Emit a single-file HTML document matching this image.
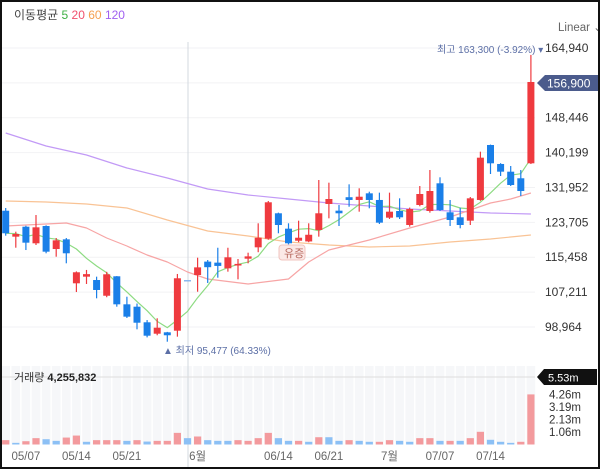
<!DOCTYPE html>
<html><head><meta charset="utf-8">
<style>
html,body{margin:0;padding:0;background:#fff;}
#wrap{position:relative;width:600px;height:469px;overflow:hidden;font-family:"Liberation Sans","Noto Sans CJK KR",sans-serif;}
svg text{font-family:"Liberation Sans","Noto Sans CJK KR",sans-serif;}
</style></head>
<body>
<div id="wrap">
<svg id="chart" width="600" height="469" viewBox="0 0 600 469" xmlns="http://www.w3.org/2000/svg">
  <rect x="0" y="0" width="600" height="469" fill="#fff"/>
  <g id="grid"></g>
  <g id="volbg"></g>
  <line x1="188" y1="42" x2="188" y2="469" stroke="#d3d8df" stroke-width="1"/>
  <g id="ma"></g>
  <g id="candles"></g>
  <g id="vols"></g>
  <g id="axis"></g>
  <g id="xaxis"></g>

  <text x="14" y="19" font-size="12" fill="#444">이동평균 <tspan fill="#3cb043">5</tspan> <tspan fill="#f0506e">20</tspan> <tspan fill="#f5a050">60</tspan> <tspan fill="#a060f0">120</tspan></text>
  <text x="558" y="31" font-size="11.5" fill="#666">Linear ⌄</text>

  <text x="437" y="53" font-size="10" fill="#5c6fa6">최고 163,300 (-3.92%) ▾</text>
  <text x="163" y="354" font-size="10" fill="#5c6fa6">▲ 최저 95,477 (64.33%)</text>

  <g>
    <rect x="279" y="245" width="26" height="15" rx="3" fill="#fbe9e7" stroke="#f0c4bf"/>
    <text x="284" y="257" font-size="11" fill="#b86a60">유증</text>
  </g>

  <g>
    <polygon points="537,83 545,75 598,75 598,91 545,91" fill="#4b5b8c"/>
    <text x="547" y="87.5" font-size="12" fill="#fff">156,900</text>
  </g>

  <line x1="0" y1="377" x2="535" y2="377" stroke="#ddd"/>
  <text x="14" y="381" font-size="11" fill="#333">거래량 <tspan font-weight="bold" fill="#222">4,255,832</tspan></text>
  <g>
    <polygon points="537,377 544,369 597,369 597,385 544,385" fill="#111"/>
    <text x="548" y="381.5" font-size="11" fill="#fff">5.53m</text>
  </g>

  <rect x="1" y="1" width="598" height="467" fill="none" stroke="#111" stroke-width="2"/>
</svg>
</div>
<script>
// ---- data ----
const opens  = [126460,120320,122680,118750,122840,117400,119690,109290,110860,110070,106350,110950,104320,103760,100070,97370,97700,98080,110070,111250,114420,114180,112840,113500,115110,117800,119840,125850,122210,119360,119190,121900,128050,126470,129650,129000,130570,129000,124810,126390,123080,127810,126390,132940,126080,124900,124100,129000,142000,137510,135690,134130,137670];
const closes = [121120,120950,118900,122530,116770,119450,116390,111900,111460,107710,111420,104320,101400,99970,96900,98790,97000,110480,110070,113060,113100,113400,115440,113880,115660,120070,128450,123080,118750,120070,120770,125850,129230,125850,129000,129770,129000,123630,126230,124900,126860,130410,131120,126630,124260,123080,129390,139000,137670,135690,132540,131120,156900];
const highs  = [127100,121500,122900,125440,123000,120000,120000,112100,112450,110860,112000,111000,106120,104500,100600,101020,97800,111500,110070,115350,114800,117700,117700,115040,116530,123480,128760,126000,123480,124100,123480,133720,133090,127800,132700,131760,130960,130730,130730,129390,127200,132300,136090,134360,128990,127170,129700,140420,142100,137700,137030,136090,163300];
const lows   = [120550,117710,117160,118350,116390,115580,114020,107230,109130,105740,106000,103760,101090,98410,96500,97000,95477,96670,110070,107300,109370,110620,112040,110230,114020,116640,119600,121120,118500,119000,119000,120320,124660,122840,127400,126230,127030,123320,124500,124500,122680,127500,126000,126400,122840,122300,123080,128800,135140,134670,132300,129940,137500];
const volumes = [0.37,0.14,0.28,0.54,0.45,0.31,0.59,0.76,0.23,0.37,0.37,0.37,0.31,0.37,0.25,0.31,0.31,0.99,0.54,0.68,0.37,0.31,0.31,0.37,0.31,0.54,0.99,0.54,0.31,0.31,0.23,0.62,0.62,0.31,0.37,0.31,0.23,0.23,0.37,0.31,0.23,0.54,0.54,0.31,0.31,0.31,0.54,1.08,0.40,0.23,0.14,0.23,4.26];
const volDir = "rbrrbbrrbrrrbrbrrrbrbbbrrrrbbrbrbbrbbrrbbrrbrbrrbbbrr".split("");
const maIdx = [0,4,8,12,16,20,24,28,32,36,40,44,48,52];
const ma120 = [144837,141763,139634,136560,134195,131593,130174,129228,128282,127573,126863,126390,125917,125681];
const ma60  = [128755,128518,128045,127099,124262,121660,120478,119059,118349,117876,118113,119059,119768,120714];
const ma20Idx = [0,4,6,8,10,12,14,16,18,20,24,28,30,32,36,40,44,46,48,50,52];
const ma20  = [122843,123316,123552,122370,120005,118113,115984,114329,111964,110308,109126,110308,114329,117167,119532,122370,124971,126627,128282,129228,130647];
const priceTicks = [164940,156693,148446,140199,131952,123705,115458,107211,98964];
const priceTickLabels = ["164,940","156,693","148,446","140,199","131,952","123,705","115,458","107,211","98,964"];
const volTicks = [4.26,3.19,2.13,1.06];
const volTickLabels = ["4.26m","3.19m","2.13m","1.06m"];
const dateIdx = [2,7,12,19,27,32,38,43,48];
const dateLabels = ["05/07","05/14","05/21","6월","06/14","06/21","7월","07/07","07/14"];

// ---- scales ----
const NS="http://www.w3.org/2000/svg";
const xOf = i => 5.7 + i*10.1;
const yOf = p => 48 + (164940 - p) / 236.5;
const vBase = 444.5;
const vOf = v => vBase - v * 11.76;
function mk(tag, attrs, parent){const e=document.createElementNS(NS,tag);for(const k in attrs)e.setAttribute(k,attrs[k]);parent.appendChild(e);return e;}
const G=id=>document.getElementById(id);
const RED="#ef3a3f", BLUE="#1a7fe8";

priceTicks.forEach((p,k)=>{
  const y=yOf(p);
  const gl=mk('line',{x1:0,y1:y,x2:535,y2:y,stroke:'#f2f2f4'},G('grid'));
  
  
  if(k===1) return;
  const t=mk('text',{x:545,y:y+4,'font-size':12,fill:'#333'},G('axis'));
  t.textContent=priceTickLabels[k];
  
  
});
volTicks.forEach((v,k)=>{
  const t=mk('text',{x:549,y:vOf(v)+4,'font-size':11.5,fill:'#333'},G('axis'));
  t.textContent=volTickLabels[k];
  
  
});
for(let i=0;i<closes.length;i++){
  const r=mk('rect',{x:xOf(i)-4.3,y:366,width:8.6,height:vBase-366,fill:'#f6f7f9'},G('volbg'));
  
  
}
dateIdx.forEach((i,k)=>{
  const t=mk('text',{x:xOf(i),y:460,'font-size':11.5,fill:'#666','text-anchor':'middle'},G('xaxis'));
  t.textContent=dateLabels[k];
  
  
});
function line(idx, vals, color, name, w){
  const pts=idx.map((i,k)=>xOf(i).toFixed(1)+','+yOf(vals[k]).toFixed(1)).join(' ');
  const pl=mk('polyline',{points:pts,fill:'none',stroke:color,'stroke-width':w,'stroke-linejoin':'round'},G('ma'));
  
  
}
line(maIdx, ma120, '#c29af6', 'ma120-line', 1.2);
line(maIdx, ma60, '#f9c395', 'ma60-line', 1.2);
line(ma20Idx, ma20, '#f7a5a5', 'ma20-line', 1.2);
const ma5=[],ma5Idx=[];
closes.forEach((c,i)=>{const s=closes.slice(Math.max(0,i-4),i+1);ma5.push(s.reduce((a,b)=>a+b,0)/s.length);ma5Idx.push(i);});
line(ma5Idx, ma5, '#8ddb82', 'ma5-line', 1.2);
closes.forEach((c,i)=>{
  const o=opens[i], x=xOf(i);
  const col = c>o ? RED : (c<o ? BLUE : '#8ab8ee');
  const w=mk('line',{x1:x,y1:yOf(highs[i]),x2:x,y2:yOf(lows[i]),stroke:col,'stroke-width':1.2},G('candles'));
  
  
  const top=yOf(Math.max(o,c)), h=Math.max(1.5,yOf(Math.min(o,c))-top);
  const b=mk('rect',{x:x-3.5,y:top,width:7,height:h,fill:col},G('candles'));
  
  
});
volumes.forEach((v,i)=>{
  const y=vOf(v);
  const r=mk('rect',{x:xOf(i)-3.6,y:y,width:7.2,height:vBase-y,fill:volDir[i]==='r'?'#f39a9d':'#8cc0f5'},G('vols'));
  
  
});
</script>
</body></html>
